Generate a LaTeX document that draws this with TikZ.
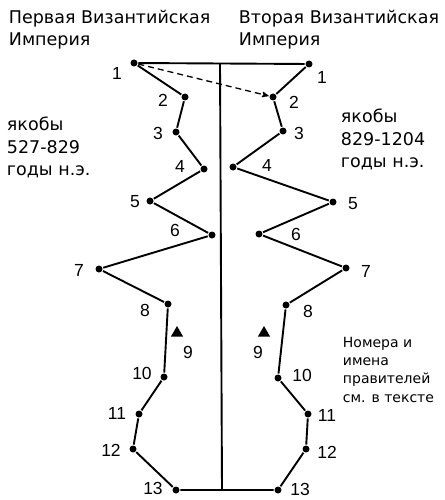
\documentclass[tikz,border=0pt]{standalone}
\usepackage{fontspec}
\setmainfont{Liberation Sans}
\newfontfamily\blockfont{DejaVu Sans}
\usetikzlibrary{arrows,shapes.geometric}

\begin{document}
\begin{tikzpicture}[x=1pt,y=-1pt,line width=1.9pt,
  dot/.style={circle,fill=black,inner sep=0pt,minimum size=7pt},
  marker/.style={regular polygon,regular polygon sides=3,fill=black,inner sep=0pt,minimum size=14pt},
  num/.style={font=\fontsize{17.5}{20}\selectfont,inner sep=0pt},
  block/.style={font=\blockfont\fontsize{17.5}{22.5}\selectfont,align=left,inner sep=0pt,anchor=north west},
  note/.style={font=\blockfont\fontsize{14}{18.3}\selectfont,align=left,inner sep=0pt,anchor=north west}]
  \useasboundingbox (0,0) rectangle (444,500);
  % headings and side texts
  \node[block] (first) at (8,9) {Первая Византийская\\Империя};
  \node[block] (second) at (238,9) {Вторая Византийская\\Империя};
  \node[block] (firstyears) at (6,116) {якобы\\527-829\\годы н.э.};
  \node[block] (secondyears) at (340,108) {якобы\\829-1204\\годы н.э.};
  \node[note] (remark) at (342,336) {Номера и\\имена\\правителей\\см. в тексте};
  % first empire
  \node[dot] (L1) at (134,63) {};
  \node[dot] (L2) at (185,97) {};
  \node[dot] (L3) at (176,132) {};
  \node[dot] (L4) at (204,169) {};
  \node[dot] (L5) at (150,201) {};
  \node[dot] (L6) at (212,235) {};
  \node[dot] (L7) at (99,269) {};
  \node[dot] (L8) at (168,304) {};
  \node[marker] (L9) at (177,333) {};
  \node[dot] (L10) at (164,377) {};
  \node[dot] (L11) at (139,414) {};
  \node[dot] (L12) at (133,449) {};
  \node[dot] (L13) at (176,490) {};
  % second empire
  \node[dot] (R1) at (309,64) {};
  \node[dot] (R2) at (273,97) {};
  \node[dot] (R3) at (283,131) {};
  \node[dot] (R4) at (233,167) {};
  \node[dot] (R5) at (333,202) {};
  \node[dot] (R6) at (259,234) {};
  \node[dot] (R7) at (346,268) {};
  \node[dot] (R8) at (286,305) {};
  \node[marker] (R9) at (264,333) {};
  \node[dot] (R10) at (278,378) {};
  \node[dot] (R11) at (308,414) {};
  \node[dot] (R12) at (306,449) {};
  \node[dot] (R13) at (278,490) {};
  % numbers
  \node[num] (nL1) at (117,73) {1};
  \node[num] (nL2) at (163,100) {2};
  \node[num] (nL3) at (158,133) {3};
  \node[num] (nL4) at (180,166) {4};
  \node[num] (nL5) at (135,202) {5};
  \node[num] (nL6) at (175,230) {6};
  \node[num] (nL7) at (79,270) {7};
  \node[num] (nL8) at (145,310) {8};
  \node[num] (nL9) at (188,352) {9};
  \node[num] (nL10) at (142,373) {10};
  \node[num] (nL11) at (117,413) {11};
  \node[num] (nL12) at (111,450) {12};
  \node[num] (nL13) at (153,488) {13};
  \node[num] (nR1) at (322,77) {1};
  \node[num] (nR2) at (294,102) {2};
  \node[num] (nR3) at (299,133) {3};
  \node[num] (nR4) at (267,165) {4};
  \node[num] (nR5) at (353,204) {5};
  \node[num] (nR6) at (296,234) {6};
  \node[num] (nR7) at (366,271) {7};
  \node[num] (nR8) at (308,311) {8};
  \node[num] (nR9) at (258,352) {9};
  \node[num] (nR10) at (302,375) {10};
  \node[num] (nR11) at (327,415) {11};
  \node[num] (nR12) at (327,452) {12};
  \node[num] (nR13) at (300,489) {13};
  % axis
  \coordinate (axistop) at (220,63.5);
  \coordinate (axisbot) at (222,490);
  \draw (axistop) -- (axisbot);
  \draw (L1) -- (R1);
  \draw (L1) -- (L2) -- (L3) -- (L4) -- (L5) -- (L6) -- (L7) -- (L8) -- (L10)
    -- (L11) -- (L12) -- (L13) -- (R13) -- (R12) -- (R11) -- (R10) -- (R8)
    -- (R7) -- (R6) -- (R5) -- (R4) -- (R3) -- (R2) -- (R1);
  \draw[->,>=stealth',line width=1.3pt,dash pattern=on 6pt off 4pt] (L1) -- (R2);
\end{tikzpicture}
\end{document}
